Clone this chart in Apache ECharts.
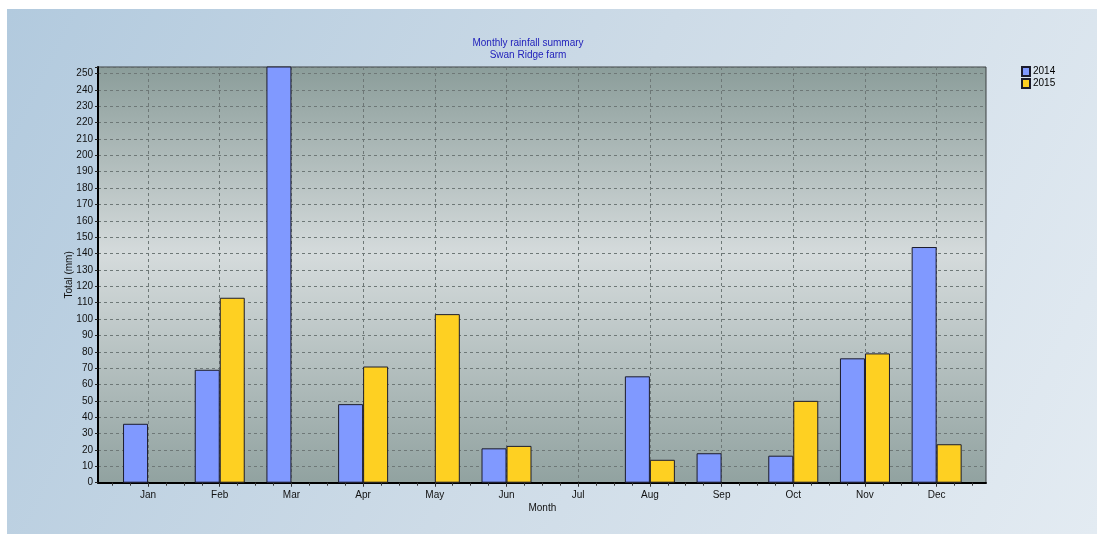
<!DOCTYPE html>
<html>
<head>
<meta charset="utf-8">
<script src="https://cdn.jsdelivr.net/npm/echarts@6/dist/echarts.min.js"></script>
<style>
html,body{margin:0;padding:0;background:#fff;}
#chart{width:1105px;height:534px;}
</style>
</head>
<body>
<div id="chart"></div>
<script>
// ---- data ----
const categories = ['Jan','Feb','Mar','Apr','May','Jun','Jul','Aug','Sep','Oct','Nov','Dec'];
const seriesNames = ['2014','2015'];
// Mar 2014 runs off the top of the axis in the reference (value estimated)
const rain2014 = [36, 69, 280, 48, null, 21, null, 65, 18, 16.5, 76, 144];
const rain2015 = [null, 113, null, 71, 103, 22.5, null, 14, null, 50, 79, 23.5];
const titleLines = ['Monthly rainfall summary', 'Swan Ridge farm'];
const yAxisName = 'Total (mm)';
const xAxisName = 'Month';
const yMax = 254;
const yStep = 10;

const FONT = 'Liberation Sans, Arial, sans-serif';
const chart = echarts.init(document.getElementById('chart'), null, {renderer: 'canvas'});

const dashed = {color: '#6e7877', type: [3, 3], width: 1};
const barBorder = {borderColor: '#1c1c2c', borderWidth: 1};

chart.setOption({
  animation: false,
  textStyle: {fontFamily: FONT},
  graphic: [{
    type: 'rect', z: -10, silent: true,
    shape: {x: 7, y: 9, width: 1090, height: 525},
    style: {fill: new echarts.graphic.LinearGradient(0, 0, 1, 1, [
      {offset: 0, color: '#b2cade'},
      {offset: 0.5, color: '#cddbe7'},
      {offset: 1, color: '#e3ebf2'}
    ])}
  }],
  title: {
    text: titleLines.join('\n'),
    left: 523, top: 32, textAlign: 'center',
    textStyle: {fontSize: 10, fontWeight: 'normal', color: '#2222bb', lineHeight: 12, fontFamily: FONT}
  },
  legend: {
    data: seriesNames,
    orient: 'vertical', left: 1016, top: 61,
    itemWidth: 8, itemHeight: 9, itemGap: 1,
    icon: 'rect',
    textStyle: {fontSize: 10, color: '#000', lineHeight: 11, padding: [0, 0, 0, -2]}
  },
  grid: [
    {left: 112.2, right: 132.5, top: 67, bottom: 51.3},
    {left: 98, right: 119, top: 67, bottom: 51.3, show: true,
     borderColor: '#3a3f40', borderWidth: 1,
     backgroundColor: new echarts.graphic.LinearGradient(0, 0, 0, 1, [
       {offset: 0, color: '#8b9d9a'},
       {offset: 0.45, color: '#d5dbdc'},
       {offset: 1, color: '#91a2a0'}
     ])}
  ],
  xAxis: [
    {type: 'category', gridIndex: 0, data: categories, boundaryGap: true, position: 'bottom',
     axisLine: {show: false},
     axisTick: {show: true, alignWithLabel: true, length: 4, lineStyle: {color: '#222'}},
     axisLabel: {fontSize: 10, color: '#111', margin: 8},
     splitLine: {show: true, alignWithLabel: true, lineStyle: dashed},
     name: xAxisName, nameLocation: 'middle', nameGap: 21, nameMoveOverlap: false,
     nameTextStyle: {fontSize: 10, color: '#111'}},
    {type: 'value', gridIndex: 0, min: 0, max: categories.length * 4, interval: 1, position: 'bottom',
     axisLine: {show: false}, axisLabel: {show: false}, splitLine: {show: false},
     axisTick: {show: true, length: 3, lineStyle: {color: '#333'}}},
    {type: 'value', gridIndex: 1, min: 0, max: 1, position: 'bottom',
     axisLine: {show: true, lineStyle: {color: '#000', width: 2}},
     axisTick: {show: false}, axisLabel: {show: false}, splitLine: {show: false}}
  ],
  yAxis: [
    {type: 'value', gridIndex: 0, min: 0, max: yMax, show: false, splitLine: {show: false}},
    {type: 'value', gridIndex: 1, min: 0, max: yMax, interval: yStep,
     axisLine: {show: true, lineStyle: {color: '#000', width: 2}},
     axisTick: {show: true, length: 3, lineStyle: {color: '#222'}},
     axisLabel: {fontSize: 10, color: '#111', margin: 5, showMaxLabel: true,
       formatter: v => (v % yStep === 0 ? String(v) : '')},
     splitLine: {show: true, lineStyle: dashed},
     name: yAxisName, nameLocation: 'middle', nameGap: 24, nameMoveOverlap: false,
     nameTextStyle: {fontSize: 10, color: '#111'}}
  ],
  series: [
    {name: seriesNames[0], type: 'bar', xAxisIndex: 0, yAxisIndex: 0, data: rain2014,
     barWidth: 25, barGap: '0%', clip: true,
     itemStyle: Object.assign({color: '#8099ff'}, barBorder)},
    {name: seriesNames[1], type: 'bar', xAxisIndex: 0, yAxisIndex: 0, data: rain2015,
     barWidth: 25, barGap: '0%', clip: true,
     itemStyle: Object.assign({color: '#fed022'}, barBorder)}
  ]
});
</script>
</body>
</html>
